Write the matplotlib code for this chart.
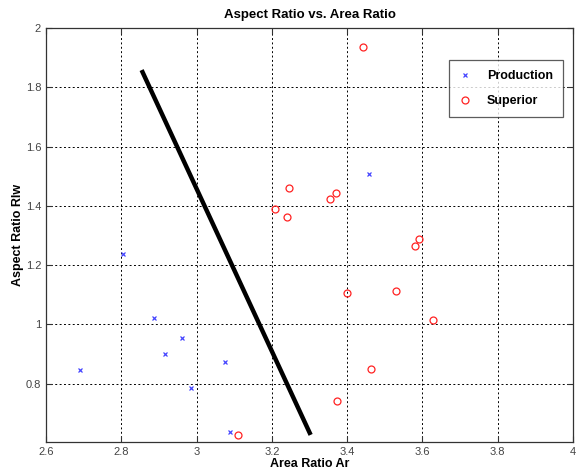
import matplotlib
matplotlib.use("Agg")
import matplotlib.pyplot as plt

prod_x = [2.690, 2.805, 2.888, 2.916, 2.960, 2.984, 3.076, 3.089, 3.458]
prod_y = [0.846, 1.238, 1.020, 0.900, 0.953, 0.785, 0.873, 0.637, 1.507]

sup_x = [3.109, 3.246, 3.209, 3.239, 3.442, 3.370, 3.355, 3.592, 3.579,
         3.400, 3.531, 3.629, 3.463, 3.374]
sup_y = [0.628, 1.461, 1.388, 1.361, 1.935, 1.442, 1.424, 1.289, 1.266,
         1.106, 1.111, 1.015, 0.850, 0.742]

line_x = [2.854, 3.303]
line_y = [1.858, 0.627]

xticks = [2.6, 2.8, 3.0, 3.2, 3.4, 3.6, 3.8, 4.0]
xticklabels = ["2.6", "2.8", "3", "3.2", "3.4", "3.6", "3.8", "4"]
yticks = [0.8, 1.0, 1.2, 1.4, 1.6, 1.8, 2.0]
yticklabels = ["0.8", "1", "1.2", "1.4", "1.6", "1.8", "2"]

plt.rcParams['font.family'] = ['Liberation Sans', 'DejaVu Sans']

fig = plt.figure(figsize=(5.77, 4.71), dpi=100)
ax = fig.add_axes([46/577, 29/471, (573-46)/577, (442-28)/471])

ax.plot(prod_x, prod_y, linestyle='none', marker='x', color='#4444ff',
        markersize=3, markeredgewidth=0.9, label='Production')
ax.plot(sup_x, sup_y, linestyle='none', marker='o', markerfacecolor='none',
        markeredgecolor='#ff2222', markersize=5, markeredgewidth=0.9, label='Superior')
ax.plot(line_x, line_y, color='black', linewidth=3.2, solid_capstyle='butt')

ax.set_xlim(2.6, 4.0)
ax.set_ylim(0.603, 2.0)
ax.set_xticks(xticks)
ax.set_xticklabels(xticklabels)
ax.set_yticks(yticks)
ax.set_yticklabels(yticklabels)
ax.tick_params(direction='in', length=4, labelsize=8, colors='#333333',
               top=True, right=True, labelcolor='#444444')
ax.grid(True, color='black', linestyle=(0, (2, 2.5)), linewidth=0.7)
for s in ax.spines.values():
    s.set_color('#333333')
    s.set_linewidth(0.9)

ax.set_title('Aspect Ratio vs. Area Ratio', fontsize=9.5, fontweight='bold', pad=7)
ax.set_xlabel('Area Ratio Ar', fontsize=9, fontweight='bold', labelpad=1)
ax.set_ylabel('Aspect Ratio Rlw', fontsize=9, fontweight='bold', labelpad=1)

leg = ax.legend(loc='upper right', bbox_to_anchor=((562.7-46)/527, (442-60)/414),
                prop={'weight': 'bold', 'size': 9},
                frameon=True, fancybox=False, edgecolor='#333333',
                borderpad=0.8, labelspacing=1.05, handlelength=0.9,
                handletextpad=1.3, borderaxespad=0)
leg.get_frame().set_linewidth(0.9)

fig.savefig('out.png', dpi=100, facecolor='white')
